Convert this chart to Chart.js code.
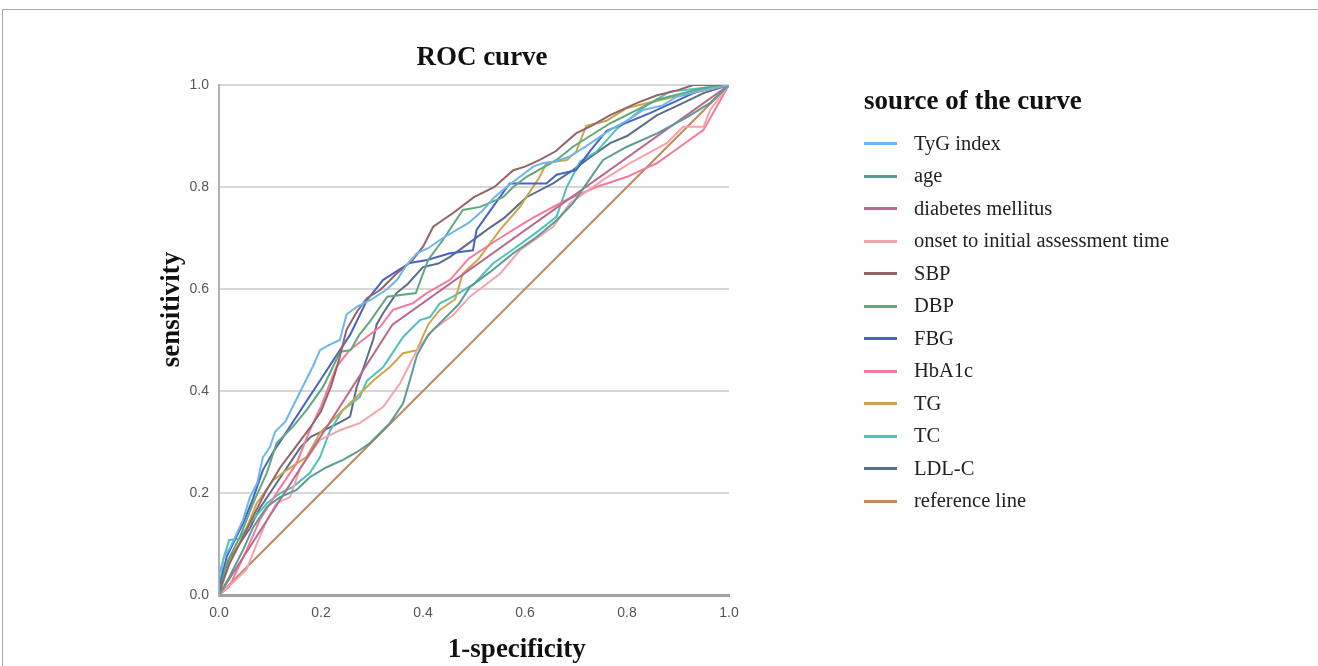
<!DOCTYPE html>
<html>
<head>
<meta charset="utf-8">
<title>ROC curve</title>
<script src="https://cdn.jsdelivr.net/npm/chart.js@4.4.1/dist/chart.umd.min.js"></script>
<style>
  html, body { margin: 0; padding: 0; background: #fff; }
  #wrap { position: relative; width: 1318px; height: 666px; overflow: hidden; }
  #frame { position: absolute; left: 2px; top: 9px; right: -4px; bottom: -4px; border: 1px solid #a8a8a8; }
  #roc { position: absolute; left: 0; top: 0; }
  #legend { position: absolute; left: 864px; top: 83.8px; font-family: 'Liberation Serif', 'Times New Roman', serif; }
  #legend .title { font-size: 27px; font-weight: bold; line-height: 32.4px; color: #111; white-space: nowrap; }
  #legend ul { list-style: none; margin: 10.35px 0 0 0; padding: 0; }
  #legend li { height: 32.5px; line-height: 32.5px; font-size: 20.5px; color: #222; white-space: nowrap; }
  #legend .swatch { display: inline-block; width: 33px; height: 3px; vertical-align: middle; margin-right: 17px; position: relative; top: -1px; }
</style>
</head>
<body>
<div id="wrap">
  <div id="frame"></div>
  <canvas id="roc" width="964" height="666"></canvas>
  <div id="legend">
    <div class="title">source of the curve</div>
    <ul id="legend-items"></ul>
  </div>
</div>
<script>
// ----- Data (1-specificity, sensitivity) -----
const labels = ['TyG index', 'age', 'diabetes mellitus', 'onset to initial assessment time',
  'SBP', 'DBP', 'FBG', 'HbA1c', 'TG', 'TC', 'LDL-C', 'reference line'];

const tygX = [0, 0, 0.01, 0.02, 0.03, 0.047, 0.06, 0.075, 0.086, 0.10, 0.11, 0.13, 0.145, 0.16, 0.17, 0.185, 0.198, 0.215, 0.237, 0.25, 0.27, 0.30, 0.33, 0.349, 0.37, 0.388, 0.41, 0.439, 0.466, 0.49, 0.518, 0.54, 0.564, 0.59, 0.616, 0.636, 0.66, 0.688, 0.72, 0.767, 0.80, 0.832, 0.87, 0.898, 0.95, 1];
const tygY = [0, 0.04, 0.075, 0.09, 0.11, 0.147, 0.19, 0.22, 0.27, 0.29, 0.32, 0.34, 0.37, 0.40, 0.42, 0.45, 0.48, 0.49, 0.50, 0.55, 0.565, 0.58, 0.60, 0.618, 0.65, 0.67, 0.68, 0.70, 0.716, 0.73, 0.755, 0.78, 0.80, 0.82, 0.84, 0.847, 0.85, 0.86, 0.88, 0.912, 0.93, 0.951, 0.96, 0.977, 0.99, 1];

const ageX = [0, 0.02, 0.047, 0.067, 0.094, 0.12, 0.152, 0.178, 0.21, 0.243, 0.27, 0.296, 0.335, 0.361, 0.374, 0.388, 0.41, 0.44, 0.47, 0.492, 0.531, 0.577, 0.623, 0.662, 0.694, 0.721, 0.753, 0.80, 0.859, 0.918, 0.963, 1];
const ageY = [0, 0.035, 0.088, 0.133, 0.173, 0.192, 0.206, 0.231, 0.25, 0.265, 0.28, 0.298, 0.337, 0.376, 0.42, 0.47, 0.51, 0.54, 0.57, 0.604, 0.633, 0.67, 0.702, 0.735, 0.768, 0.807, 0.853, 0.879, 0.905, 0.937, 0.965, 1];

const dmX = [0, 0.34, 1];
const dmY = [0, 0.53, 1];

const onsetX = [0, 0.027, 0.054, 0.074, 0.094, 0.113, 0.139, 0.16, 0.198, 0.237, 0.276, 0.322, 0.355, 0.388, 0.42, 0.46, 0.492, 0.551, 0.59, 0.655, 0.688, 0.753, 0.806, 0.878, 0.91, 0.95, 0.963, 1];
const onsetY = [0, 0.024, 0.05, 0.10, 0.147, 0.18, 0.192, 0.25, 0.304, 0.323, 0.337, 0.369, 0.415, 0.48, 0.52, 0.55, 0.585, 0.63, 0.676, 0.722, 0.768, 0.814, 0.847, 0.886, 0.918, 0.918, 0.951, 1];

const sbpX = [0, 0.005, 0.02, 0.04, 0.06, 0.09, 0.12, 0.15, 0.18, 0.2, 0.22, 0.235, 0.245, 0.25, 0.27, 0.29, 0.316, 0.348, 0.38, 0.40, 0.42, 0.459, 0.50, 0.54, 0.577, 0.60, 0.629, 0.66, 0.70, 0.73, 0.767, 0.82, 0.859, 0.90, 0.93, 1];
const sbpY = [0, 0.02, 0.06, 0.10, 0.14, 0.20, 0.25, 0.29, 0.33, 0.36, 0.41, 0.46, 0.50, 0.52, 0.555, 0.582, 0.598, 0.63, 0.657, 0.683, 0.722, 0.749, 0.78, 0.80, 0.833, 0.84, 0.853, 0.87, 0.905, 0.92, 0.941, 0.965, 0.98, 0.99, 1, 1];

const dbpX = [0, 0.015, 0.041, 0.067, 0.094, 0.113, 0.145, 0.172, 0.204, 0.238, 0.258, 0.275, 0.295, 0.33, 0.386, 0.40, 0.41, 0.439, 0.478, 0.512, 0.557, 0.577, 0.603, 0.662, 0.694, 0.767, 0.859, 0.95, 1];
const dbpY = [0, 0.063, 0.114, 0.18, 0.24, 0.298, 0.33, 0.363, 0.408, 0.477, 0.48, 0.51, 0.535, 0.585, 0.592, 0.63, 0.657, 0.696, 0.755, 0.761, 0.78, 0.80, 0.82, 0.853, 0.879, 0.925, 0.971, 0.994, 1];

const fbgX = [0, 0.002, 0.015, 0.027, 0.047, 0.067, 0.086, 0.106, 0.126, 0.152, 0.178, 0.198, 0.224, 0.257, 0.29, 0.322, 0.374, 0.408, 0.453, 0.498, 0.505, 0.537, 0.57, 0.642, 0.662, 0.70, 0.727, 0.76, 0.845, 0.943, 1];
const fbgY = [0, 0.02, 0.075, 0.10, 0.14, 0.19, 0.245, 0.28, 0.31, 0.35, 0.39, 0.42, 0.46, 0.51, 0.578, 0.618, 0.651, 0.657, 0.67, 0.676, 0.716, 0.761, 0.807, 0.807, 0.824, 0.833, 0.87, 0.91, 0.945, 0.99, 1];

const hba1cX = [0, 0.02, 0.054, 0.08, 0.113, 0.152, 0.178, 0.2, 0.23, 0.256, 0.282, 0.316, 0.341, 0.38, 0.407, 0.453, 0.49, 0.551, 0.616, 0.682, 0.74, 0.80, 0.859, 0.904, 0.95, 1];
const hba1cY = [0, 0.016, 0.088, 0.147, 0.2, 0.258, 0.323, 0.37, 0.447, 0.48, 0.50, 0.526, 0.559, 0.572, 0.592, 0.618, 0.66, 0.70, 0.74, 0.775, 0.80, 0.82, 0.847, 0.879, 0.912, 1];

const tgX = [0, 0.02, 0.047, 0.074, 0.106, 0.133, 0.172, 0.198, 0.237, 0.263, 0.302, 0.335, 0.361, 0.388, 0.41, 0.433, 0.463, 0.478, 0.51, 0.551, 0.59, 0.629, 0.642, 0.682, 0.70, 0.72, 0.76, 0.80, 0.884, 0.943, 1];
const tgY = [0, 0.063, 0.114, 0.18, 0.225, 0.245, 0.271, 0.318, 0.357, 0.382, 0.42, 0.447, 0.474, 0.48, 0.53, 0.559, 0.58, 0.63, 0.66, 0.716, 0.761, 0.82, 0.847, 0.853, 0.869, 0.92, 0.93, 0.955, 0.975, 0.987, 1];

const tcX = [0, 0.008, 0.02, 0.04, 0.06, 0.094, 0.12, 0.145, 0.178, 0.198, 0.218, 0.243, 0.276, 0.29, 0.322, 0.361, 0.394, 0.414, 0.433, 0.459, 0.50, 0.537, 0.58, 0.629, 0.662, 0.682, 0.708, 0.74, 0.78, 0.838, 0.884, 1];
const tcY = [0, 0.069, 0.108, 0.11, 0.14, 0.18, 0.20, 0.212, 0.239, 0.27, 0.323, 0.363, 0.388, 0.42, 0.447, 0.506, 0.539, 0.545, 0.572, 0.585, 0.61, 0.65, 0.68, 0.716, 0.742, 0.80, 0.85, 0.869, 0.914, 0.96, 0.987, 1];

const ldlX = [0, 0.008, 0.02, 0.04, 0.06, 0.08, 0.10, 0.12, 0.14, 0.16, 0.18, 0.20, 0.22, 0.24, 0.257, 0.27, 0.285, 0.302, 0.309, 0.322, 0.348, 0.37, 0.40, 0.43, 0.453, 0.49, 0.525, 0.56, 0.603, 0.655, 0.694, 0.73, 0.767, 0.80, 0.859, 0.90, 0.95, 1];
const ldlY = [0, 0.04, 0.07, 0.10, 0.13, 0.17, 0.20, 0.23, 0.26, 0.29, 0.31, 0.32, 0.33, 0.34, 0.35, 0.408, 0.45, 0.50, 0.53, 0.553, 0.592, 0.61, 0.643, 0.65, 0.663, 0.69, 0.716, 0.74, 0.78, 0.807, 0.833, 0.86, 0.886, 0.90, 0.941, 0.96, 0.984, 1];

const refX = [0, 1];
const refY = [0, 1];

const colors = ['#6db6ee', '#5c9a93', '#b8698e', '#f5a3ab', '#946468', '#5fa97a',
  '#4863c4', '#f07b9b', '#c9a64c', '#4fc1bc', '#5a6e87', '#c08a62'];

const xTickLabels = ['0.0', '0.2', '0.4', '0.6', '0.8', '1.0'];
const yTickLabels = ['0.0', '0.2', '0.4', '0.6', '0.8', '1.0'];

const curves = [
  [tygX, tygY], [ageX, ageY], [dmX, dmY], [onsetX, onsetY], [sbpX, sbpY], [dbpX, dbpY],
  [fbgX, fbgY], [hba1cX, hba1cY], [tgX, tgY], [tcX, tcY], [ldlX, ldlY], [refX, refY],
];

const serif = "'Liberation Serif', 'Times New Roman', serif";
const sans = "'Liberation Sans', Arial, sans-serif";

function zip(xs, ys) { return xs.map((x, i) => ({ x, y: ys[i] })); }

// axis titles in SPSS sit off-centre, so draw them ourselves
const axisTitles = {
  id: 'axisTitles',
  afterDraw(chart, args, opts) {
    const { ctx, chartArea, scales } = chart;
    ctx.save();
    ctx.fillStyle = opts.color;
    ctx.font = opts.font;
    ctx.textAlign = 'center';
    ctx.textBaseline = 'middle';
    ctx.fillText(opts.x.text, scales.x.getPixelForValue(opts.x.at), chartArea.bottom + opts.x.offset);
    ctx.translate(chartArea.left - opts.y.offset, scales.y.getPixelForValue(opts.y.at));
    ctx.rotate(-Math.PI / 2);
    ctx.fillText(opts.y.text, 0, 0);
    ctx.restore();
  },
};

const tickFont = { family: sans, size: 14 };

const chart = new Chart(document.getElementById('roc'), {
  type: 'line',
  data: {
    datasets: curves.map(([xs, ys], i) => ({
      label: labels[i],
      data: zip(xs, ys),
      borderColor: colors[i],
      backgroundColor: colors[i],
      borderWidth: 2,
      pointRadius: 0,
      tension: 0,
    })),
  },
  plugins: [axisTitles],
  options: {
    responsive: false,
    animation: false,
    events: [],
    layout: { padding: { top: 10, right: 0, bottom: 0, left: 0 } },
    scales: {
      x: {
        type: 'linear',
        min: 0,
        max: 1,
        grid: { display: false, drawTicks: false },
        border: { color: '#a3a3a3', width: 3 },
        ticks: {
          stepSize: 0.2,
          padding: 10,
          color: '#555',
          font: tickFont,
          callback: (v, i) => xTickLabels[i],
        },
        afterFit: (s) => { s.height = 71; },
      },
      y: {
        type: 'linear',
        min: 0,
        max: 1,
        grid: {
          color: (c) => (c.tick && c.tick.value === 0 ? 'rgba(0,0,0,0)' : '#d7d7d7'),
          lineWidth: 2,
          drawTicks: false,
        },
        border: { color: '#b0b0b0', width: 2 },
        ticks: {
          stepSize: 0.2,
          padding: 10,
          color: '#555',
          font: tickFont,
          callback: (v, i) => yTickLabels[i],
        },
        afterFit: (s) => { s.width = 219; },
      },
      // empty right-hand axis: room between the plot and the legend
      gap: {
        type: 'linear',
        position: 'right',
        display: true,
        grid: { display: false, drawTicks: false },
        border: { display: false },
        ticks: { display: false },
        afterFit: (s) => { s.width = 235; },
      },
    },
    plugins: {
      title: {
        display: true,
        text: 'ROC curve',
        color: '#111',
        font: { family: serif, size: 27, weight: 'bold' },
        padding: { top: 31.8, bottom: 10.8 },
      },
      legend: { display: false },
      tooltip: { enabled: false },
      axisTitles: {
        color: '#111',
        font: "bold 27px 'Liberation Serif', 'Times New Roman', serif",
        x: { text: '1-specificity', at: 0.584, offset: 55 },
        y: { text: 'sensitivity', at: 0.56, offset: 47 },
      },
    },
  },
});

// ----- Legend (HTML, built from the datasets) -----
function buildLegend() {
  const ul = document.getElementById('legend-items');
  ul.innerHTML = '';
  chart.data.datasets.forEach(ds => {
    const li = document.createElement('li');
    const sw = document.createElement('span');
    sw.className = 'swatch';
    sw.style.background = ds.borderColor;
    li.appendChild(sw);
    li.appendChild(document.createTextNode(ds.label));
    ul.appendChild(li);
  });
}
buildLegend();
</script>
</body>
</html>
